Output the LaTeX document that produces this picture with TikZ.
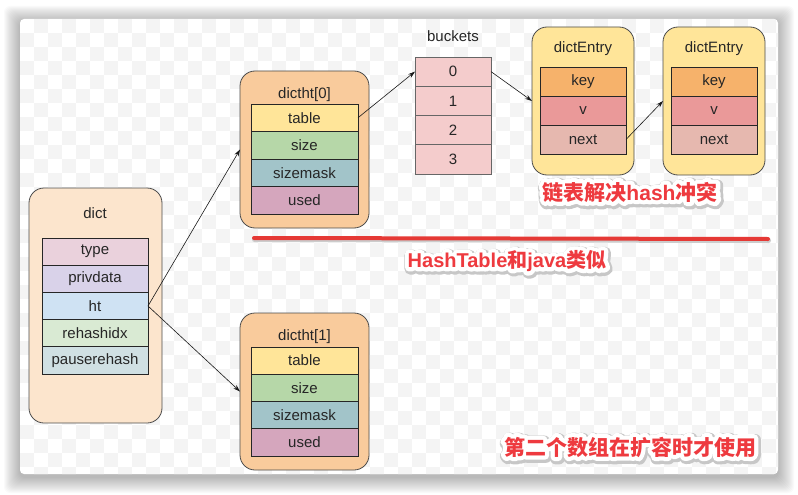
\documentclass[tikz,border=0pt]{standalone}
\usepackage{fontspec}
\setmainfont{Liberation Sans}
\newfontfamily\cjkN{Noto Sans CJK SC}
\newfontfamily\cjkW{Noto Sans CJK SC}[BoldFeatures={FakeBold=40}]
\newfontfamily\cjkS{Noto Sans CJK SC}[BoldFeatures={FakeBold=56}]
\newfontfamily\latN{Liberation Sans}
\newfontfamily\latW{Liberation Sans}[BoldFeatures={FakeBold=40}]
\newfontfamily\latS{Liberation Sans}[BoldFeatures={FakeBold=56}]
\usetikzlibrary{arrows.meta,calc}
\definecolor{dictbg}{HTML}{FCE5CD}
\definecolor{htbg}{HTML}{F9CB9C}
\definecolor{entbg}{HTML}{FFE599}
\definecolor{ctype}{HTML}{EAD1DC}
\definecolor{cpriv}{HTML}{D9D2E9}
\definecolor{cht}{HTML}{CFE2F3}
\definecolor{crehash}{HTML}{D9EAD3}
\definecolor{cpause}{HTML}{D0E0E3}
\definecolor{ctable}{HTML}{FFE599}
\definecolor{csize}{HTML}{B6D7A8}
\definecolor{cmask}{HTML}{A2C4C9}
\definecolor{cused}{HTML}{D5A6BD}
\definecolor{cbucket}{HTML}{F4CCCC}
\definecolor{ckey}{HTML}{F6B26B}
\definecolor{cv}{HTML}{EA9999}
\definecolor{cnext}{HTML}{E6B8AF}
\definecolor{redt}{HTML}{EE3A3F}
\definecolor{redl}{HTML}{E53935}
\definecolor{checker}{HTML}{F4F4F4}
\newcommand\lblfont{\fontsize{15}{18}\selectfont}
\newcommand\notefont{\fontsize{21}{24}\selectfont}
\let\zhfam\cjkN
\let\lafam\latN
\newcommand\Z[1]{{\zhfam\bfseries #1}}
\newcommand\Lt[1]{{\lafam\bfseries #1}}
\newcommand\useN{\let\zhfam\cjkN\let\lafam\latN}
\newcommand\useW{\let\zhfam\cjkW\let\lafam\latW}
\newcommand\useS{\let\zhfam\cjkS\let\lafam\latS}
\begin{document}
\begin{tikzpicture}[x=1pt,y=-1pt,
  container/.style={draw=black!70, line width=0.8pt, rounded corners=15pt, inner sep=0pt, outer sep=0pt},
  fld/.style={draw=black!85, line width=0.7pt, inner sep=0pt, outer sep=0pt, font=\lblfont, text=black!85},
  lbl/.style={font=\lblfont, text=black!85, inner sep=0pt},
  link/.style={draw=black!90, line width=0.6pt, -{Stealth[length=7pt,width=4.5pt]}},
  note/.style={font=\notefont, inner sep=0pt}
]
\useasboundingbox (0,0) rectangle (798,495);
% panel shadow
\foreach \k in {1,...,16}{
  \fill[black, opacity=0.018, rounded corners=6pt] (20-\k,19-\k+3) rectangle (778+\k,474+\k+3);
}
\fill[white, rounded corners=4pt] (20,19) rectangle (778,474);
% checkerboard
\begin{scope}
\clip[rounded corners=4pt] (20,19) rectangle (778,474);
\foreach \i in {0,...,54}{
  \foreach \j in {0,...,32}{
    \pgfmathtruncatemacro\cpar{mod(\i+\j,2)}
    \ifnum\cpar=1
      \fill[checker] (20+\i*14,19+\j*14) rectangle ++(14,14);
    \fi
  }
}
\end{scope}

% dict
\node[container, fill=dictbg, minimum width=133pt, minimum height=235pt] (dict) at (95.5,305.5) {};
\node[lbl] (dictlbl) at (95,213) {dict};
\node[fld, fill=ctype, minimum width=106pt, minimum height=27.2pt] (type) at (95,251.6) {type};
\node[fld, fill=cpriv, minimum width=106pt, minimum height=27.2pt] (priv) at (95,278.8) {privdata};
\node[fld, fill=cht, minimum width=106pt, minimum height=27.2pt] (ht) at (95,306) {ht};
\node[fld, fill=crehash, minimum width=106pt, minimum height=27.2pt] (rehash) at (95,333.2) {rehashidx};
\node[fld, fill=cpause, minimum width=106pt, minimum height=27.2pt] (pause) at (95,360.4) {pauserehash};

% dictht[0]
\node[container, fill=htbg, minimum width=129pt, minimum height=157pt] (ht0) at (304.5,149.5) {};
\node[lbl] (ht0lbl) at (304.5,95) {dictht[0]};
\node[fld, fill=ctable, minimum width=107pt, minimum height=27.5pt] (table0) at (304.5,117.75) {table};
\node[fld, fill=csize, minimum width=107pt, minimum height=27.5pt] (size0) at (304.5,145.25) {size};
\node[fld, fill=cmask, minimum width=107pt, minimum height=27.5pt] (mask0) at (304.5,172.75) {sizemask};
\node[fld, fill=cused, minimum width=107pt, minimum height=27.5pt] (used0) at (304.5,200.25) {used};

% dictht[1]
\node[container, fill=htbg, minimum width=129pt, minimum height=157pt] (ht1) at (304.5,391.5) {};
\node[lbl] (ht1lbl) at (304.5,337) {dictht[1]};
\node[fld, fill=ctable, minimum width=107pt, minimum height=27.3pt] (table1) at (304.5,360.6) {table};
\node[fld, fill=csize, minimum width=107pt, minimum height=27.3pt] (size1) at (304.5,387.9) {size};
\node[fld, fill=cmask, minimum width=107pt, minimum height=27.3pt] (mask1) at (304.5,415.1) {sizemask};
\node[fld, fill=cused, minimum width=107pt, minimum height=27.3pt] (used1) at (304.5,442.4) {used};

% buckets
\node[lbl] (bucketslbl) at (453,36) {buckets};
\node[fld, draw=black!60, fill=cbucket, minimum width=76pt, minimum height=29.25pt] (b0) at (453,71.6) {0};
\node[fld, draw=black!60, fill=cbucket, minimum width=76pt, minimum height=29.25pt] (b1) at (453,100.9) {1};
\node[fld, draw=black!60, fill=cbucket, minimum width=76pt, minimum height=29.25pt] (b2) at (453,130.1) {2};
\node[fld, draw=black!60, fill=cbucket, minimum width=76pt, minimum height=29.25pt] (b3) at (453,159.4) {3};

% dictEntry 1
\node[container, fill=entbg, minimum width=102pt, minimum height=148pt] (e1) at (583,101) {};
\node[lbl] (e1lbl) at (583,49) {dictEntry};
\node[fld, fill=ckey, minimum width=86pt, minimum height=29pt] (key1) at (583,81.5) {key};
\node[fld, fill=cv, minimum width=86pt, minimum height=29pt] (v1) at (583,110.5) {v};
\node[fld, fill=cnext, minimum width=86pt, minimum height=29pt] (next1) at (583,139.5) {next};

% dictEntry 2
\node[container, fill=entbg, minimum width=102pt, minimum height=148pt] (e2) at (714,101) {};
\node[lbl] (e2lbl) at (714,49) {dictEntry};
\node[fld, fill=ckey, minimum width=86pt, minimum height=29pt] (key2) at (714,81.5) {key};
\node[fld, fill=cv, minimum width=86pt, minimum height=29pt] (v2) at (714,110.5) {v};
\node[fld, fill=cnext, minimum width=86pt, minimum height=29pt] (next2) at (714,139.5) {next};

% connectors
\draw[link] (ht.east) -- (ht0.west);
\draw[link] (ht.east) -- (ht1.west);
\draw[link] (table0.east) -- (b0.west);
\draw[link] (b0.east) -- (e1.west);
\draw[link] (next1.east) -- (e2.west);

% red separator
\coordinate (ls) at (254,238);
\coordinate (le) at (768,239);
\draw[black!20, line width=5pt, line cap=round] ($(ls)+(0.5,1.5)$) -- ($(le)+(0.5,1.5)$);
\draw[redl, line width=4pt, line cap=round] (ls) -- (le);

% red notes
\begin{scope}[line join=round]
\node[note, text=black!22] (n1s) at (631,193.5) {\useS\Z{链表解决}\Lt{hash}\Z{冲突}};
\node[note, text=white] (n1w) at (630,192) {\useW\Z{链表解决}\Lt{hash}\Z{冲突}};
\node[note, text=redt] (n1) at (630,192) {\useN\Z{链表解决}\Lt{hash}\Z{冲突}};

\node[note, font=\fontsize{20}{24}\selectfont, text=black!22] (n2s) at (508,262.5) {\useS\Lt{HashTable}\Z{和}\Lt{java}\Z{类似}};
\node[note, font=\fontsize{20}{24}\selectfont, text=white] (n2w) at (507,261) {\useW\Lt{HashTable}\Z{和}\Lt{java}\Z{类似}};
\node[note, font=\fontsize{20}{24}\selectfont, text=redt] (n2) at (507,261) {\useN\Lt{HashTable}\Z{和}\Lt{java}\Z{类似}};

\node[note, text=black!22] (n3s) at (631,448.5) {\useS\Z{第二个数组在扩容时才使用}};
\node[note, text=white] (n3w) at (630,447) {\useW\Z{第二个数组在扩容时才使用}};
\node[note, text=redt] (n3) at (630,447) {\useN\Z{第二个数组在扩容时才使用}};
\end{scope}
\end{tikzpicture}
\end{document}
